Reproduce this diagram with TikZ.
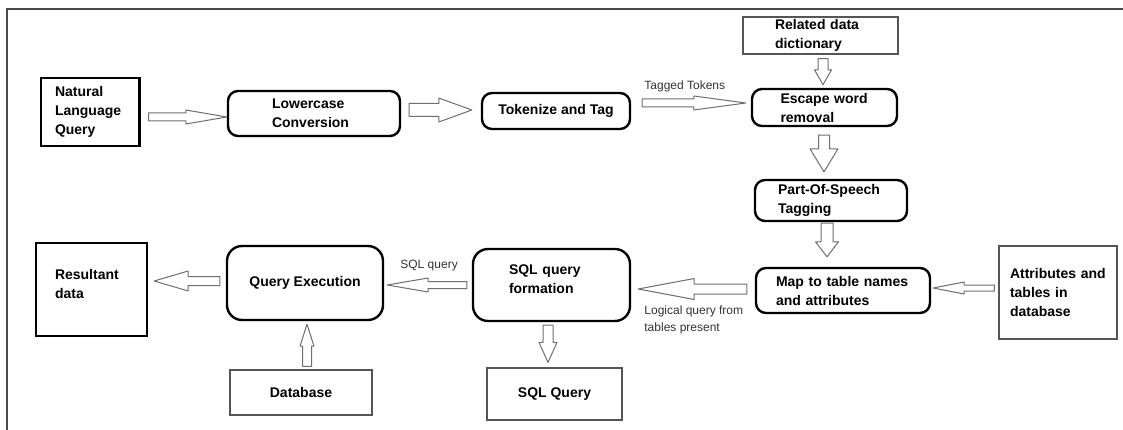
\documentclass[tikz,border=0pt]{standalone}
\usepackage{fontspec}
\setmainfont{Liberation Sans}
\usetikzlibrary{calc}
\definecolor{framegray}{HTML}{4A4A4A}
\definecolor{boxgray}{HTML}{555555}
\definecolor{arrowgray}{HTML}{6E6E6E}
\definecolor{labelgray}{HTML}{333333}
\newcommand\blockarrow[5]{% start, end, shaft half width, head half width, head length
  \coordinate (bh) at ($(#2)!#5!(#1)$);
  \draw[blockline] ($(#1)!#3!90:(#2)$) -- ($(bh)!#3!90:(#2)$) -- ($(bh)!#4!90:(#2)$) -- (#2)
    -- ($(bh)!#4!-90:(#2)$) -- ($(bh)!#3!-90:(#2)$) -- ($(#1)!#3!-90:(#2)$) -- cycle;
}
\tikzset{
  boxfont/.style={font=\fontsize{14}{19}\selectfont\bfseries},
  lblfont/.style={font=\fontsize{12}{17}\selectfont, text=labelgray},
  thickbox/.style={draw=black, line width=2.4pt, boxfont, inner sep=0pt},
  roundbox/.style={thickbox, rounded corners=10pt},
  biground/.style={thickbox, rounded corners=15pt},
  thinbox/.style={draw=boxgray, line width=1.2pt, boxfont, inner sep=0pt},
  lt/.style={text width=#1, align=left},
  ct/.style={align=center},
  blockline/.style={draw=arrowgray, line width=1pt, fill=white, line join=round},
}
\begin{document}
\begin{tikzpicture}[x=1pt, y=1pt]
\useasboundingbox (0,0) rectangle (1123,-430);
\draw[framegray, line width=1.5pt] (7,-430) -- (7,-9) -- (1123,-9);

% top row
\node[thickbox, lt=70pt, minimum width=98.6pt, minimum height=68pt] (nlq) at (90,-112) {Natural\\Language\\Query};
\node[roundbox, lt=84pt, minimum width=172pt, minimum height=45pt] (lc) at (314,-113.5) {Lowercase\\Conversion};
\node[roundbox, ct, minimum width=148pt, minimum height=36pt] (tok) at (556,-111) {Tokenize and Tag};
\node[roundbox, lt=88pt, minimum width=145pt, minimum height=37pt] (esc) at (824.5,-107.5) {Escape word\\removal};
\node[thinbox, lt=91pt, minimum width=155pt, minimum height=37pt] (dict) at (820.5,-35.5) {Related data\\dictionary};
\node[roundbox, lt=106pt, minimum width=152pt, minimum height=41pt] (pos) at (831,-200.5) {Part-Of-Speech\\Tagging};

% bottom row
\node[roundbox, lt=134pt, minimum width=174pt, minimum height=45pt] (map) at (843,-290.5) {Map to table names\\and attributes};
\node[thinbox, lt=96pt, minimum width=118pt, minimum height=93pt] (attr) at (1058,-292.5) {Attributes and\\tables in\\database};
\node[biground, lt=85pt, minimum width=157pt, minimum height=72pt] (sqlf) at (551.5,-285) {SQL query\\formation\\[-8pt]\mbox{}};
\node[thinbox, ct, minimum width=135pt, minimum height=52pt] (sqlq) at (554.5,-394) {SQL Query};
\node[biground, ct, minimum width=156pt, minimum height=74pt] (qe) at (305,-283) {Query Execution};
\node[thickbox, lt=73pt, minimum width=111pt, minimum height=93pt] (res) at (91.5,-289.5) {Resultant\\data\\[-7pt]\mbox{}};
\node[thinbox, ct, minimum width=142pt, minimum height=45pt] (db) at (301,-392.5) {Database};

% arrow end points
\coordinate (a1s) at ($(nlq.east)+(8,-5)$);
\coordinate (a1e) at (lc.west |- a1s);
\coordinate (a2s) at ($(lc.east)+(8,3.5)$);
\coordinate (a2e) at ($(tok.west |- a2s)+(-9,0)$);
\coordinate (a3s) at ($(tok.east)+(11,8)$);
\coordinate (a3e) at ($(esc.west |- a3s)+(-5,0)$);
\coordinate (a4s) at ($(dict.south)+(2.5,-4)$);
\coordinate (a4e) at ($(esc.north -| a4s)+(0,3)$);
\coordinate (a5s) at ($(esc.south)+(-0.5,-8)$);
\coordinate (a5e) at ($(pos.north -| a5s)+(0,7)$);
\coordinate (a6s) at ($(pos.south)+(-4,-1)$);
\coordinate (a6e) at ($(map.north -| a6s)+(0,10)$);
\coordinate (a7s) at ($(attr.west)+(-4,4.5)$);
\coordinate (a7e) at ($(map.east |- a7s)+(2,0)$);
\coordinate (a8s) at ($(map.west)+(-8,1.5)$);
\coordinate (a8e) at ($(sqlf.east |- a8s)+(7,0)$);
\coordinate (a9s) at ($(sqlf.south)+(-3.5,-3)$);
\coordinate (a9e) at ($(sqlq.north -| a9s)+(0,5)$);
\coordinate (a10s) at ($(sqlf.west)+(-5,0)$);
\coordinate (a10e) at ($(qe.east |- a10s)+(3,0)$);
\coordinate (a11s) at ($(qe.west)+(-6,2)$);
\coordinate (a11e) at ($(res.east |- a11s)+(6,0)$);
\coordinate (a12s) at ($(db.north)+(6,3)$);
\coordinate (a12e) at ($(qe.south -| a12s)+(0,-3)$);

% block arrows
\blockarrow{a1s}{a1e}{4pt}{7pt}{41pt}
\blockarrow{a2s}{a2e}{6.5pt}{12pt}{33pt}
\blockarrow{a3s}{a3e}{4pt}{7pt}{52pt}
\blockarrow{a4s}{a4e}{5pt}{8.5pt}{15pt}
\blockarrow{a5s}{a5e}{5.5pt}{14pt}{23pt}
\blockarrow{a6s}{a6e}{6pt}{11.5pt}{15pt}
\blockarrow{a7s}{a7e}{3pt}{6pt}{31pt}
\blockarrow{a8s}{a8e}{5pt}{10.5pt}{56pt}
\blockarrow{a9s}{a9e}{5pt}{9pt}{20pt}
\blockarrow{a10s}{a10e}{3.5pt}{7pt}{41pt}
\blockarrow{a11s}{a11e}{4.5pt}{10pt}{34pt}
\blockarrow{a12s}{a12e}{4.5pt}{7pt}{22pt}

% labels
\node[lblfont, anchor=west, inner sep=0pt] (lbl1) at ($(a3s)+(2,17)$) {Tagged Tokens};
\node[lblfont, anchor=west, inner sep=0pt] (lbl2) at ($(a10e)+(13,19)$) {SQL query};
\node[lblfont, anchor=west, inner sep=0pt, align=left] (lbl3) at ($(a8e)+(6,-30.5)$) {Logical query from\\tables present};
\end{tikzpicture}
\end{document}
